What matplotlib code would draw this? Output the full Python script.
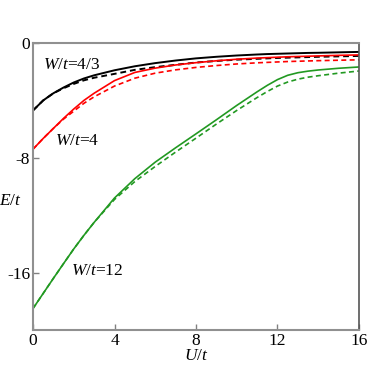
import matplotlib
matplotlib.use('Agg')
import matplotlib.pyplot as plt

plt.rcParams['font.family'] = ['Liberation Serif', 'DejaVu Serif']
plt.rcParams['mathtext.fontset'] = 'custom'
plt.rcParams['mathtext.rm'] = 'Liberation Serif'
plt.rcParams['mathtext.it'] = 'Liberation Serif:italic'

# data
U = [0, 0.5, 1, 1.5, 2, 2.5, 3, 4, 5, 6, 7, 8, 9, 10, 11, 11.5, 12, 12.5, 13, 13.5, 14, 15, 16]

E_w43_solid = [-4.7, -4.0, -3.5, -3.1, -2.75, -2.47, -2.25, -1.9, -1.62, -1.4,
               -1.22, -1.07, -0.96, -0.87, -0.8, -0.77, -0.75, -0.73, -0.71, -0.69,
               -0.68, -0.65, -0.62]
E_w43_dash = [-4.7, -4.0, -3.5, -3.15, -2.85, -2.6, -2.42, -2.15, -1.87, -1.68,
              -1.52, -1.36, -1.25, -1.16, -1.1, -1.07, -1.04, -1.02, -1.0, -0.98,
              -0.96, -0.93, -0.9]

E_w4_solid = [-7.4, -6.65, -5.95, -5.25, -4.6, -4.0, -3.5, -2.62, -2.05, -1.75,
              -1.53, -1.37, -1.24, -1.13, -1.05, -1.02, -0.99, -0.96, -0.94, -0.92,
              -0.9, -0.86, -0.83]
E_w4_dash = [-7.4, -6.65, -5.95, -5.3, -4.75, -4.2, -3.75, -3.0, -2.45, -2.1,
             -1.87, -1.7, -1.57, -1.46, -1.38, -1.35, -1.32, -1.29, -1.27, -1.25,
             -1.23, -1.2, -1.17]

E_w12_solid = [-18.5, -17.45, -16.4, -15.37, -14.35, -13.4, -12.5, -10.8, -9.45, -8.3,
               -7.3, -6.33, -5.35, -4.35, -3.4, -2.95, -2.55, -2.25, -2.07, -1.96,
               -1.88, -1.76, -1.67]
E_w12_dash = [-18.5, -17.45, -16.4, -15.37, -14.35, -13.4, -12.5, -10.9, -9.65, -8.6,
              -7.6, -6.63, -5.65, -4.7, -3.8, -3.38, -3.0, -2.72, -2.52, -2.38,
              -2.28, -2.1, -1.95]

xticks = [0, 4, 8, 12, 16]
yticks = [0, -8, -16]

fig = plt.figure(figsize=(3.68, 3.82), dpi=100)
ax = fig.add_axes([0.0897, 0.1361, 0.8858, 0.7513])

ax.plot(U, E_w43_solid, color='black', lw=1.4)
ax.plot(U, E_w43_dash, color='black', lw=1.4, ls=(0, (3, 2)))
ax.plot(U, E_w4_solid, color='red', lw=1.2)
ax.plot(U, E_w4_dash, color='red', lw=1.2, ls=(0, (3, 2)))
ax.plot(U, E_w12_solid, color='#229922', lw=1.2)
ax.plot(U, E_w12_dash, color='#229922', lw=1.2, ls=(0, (3, 2)))

ax.text(0.5, -1.55, r'$W/t$=4/3', fontsize=12.5, ha='left', va='center')
ax.text(1.08, -6.8, r'$W/t$=4', fontsize=12.5, ha='left', va='center')
ax.text(1.85, -15.9, r'$W/t$=12', fontsize=12.5, ha='left', va='center')

ax.set_xlim(0, 16)
ax.set_ylim(-20, 0)
ax.set_xticks(xticks)
ax.set_yticks(yticks)
ax.set_xticklabels([str(v) for v in xticks])
ax.set_yticklabels([str(v) for v in yticks])
ax.tick_params(direction='in', length=4, width=1, color='gray', labelsize=12.5, pad=2)

for s in ['left', 'bottom', 'top']:
    ax.spines[s].set_color('#909090')
    ax.spines[s].set_linewidth(1.5)
ax.spines['right'].set_color('#555555')
ax.spines['right'].set_linewidth(1.2)

ax.set_xlabel(r'$U/t$', fontsize=12.5, va='center')
ax.xaxis.set_label_coords(0.5, -0.092)
ax.set_ylabel(r'$E/t$', fontsize=12.5, rotation=0, ha='center', va='center')
ax.yaxis.set_label_coords(-0.07, 0.449)

fig.savefig('out.png', dpi=100)
